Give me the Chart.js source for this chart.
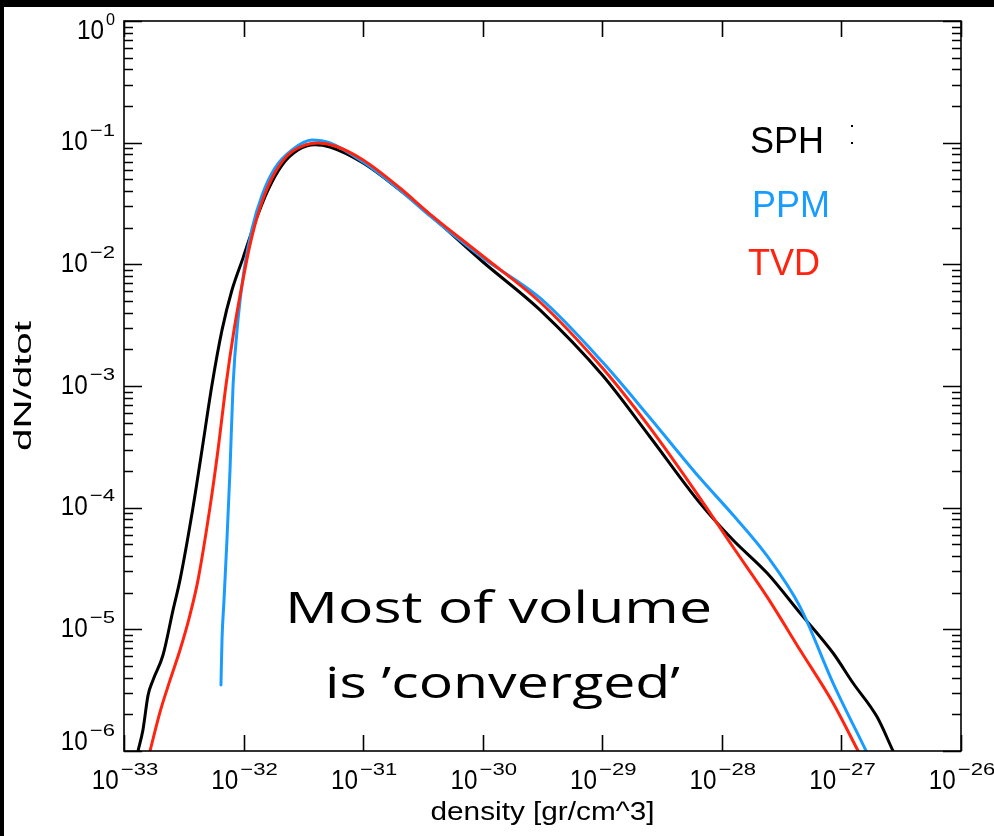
<!DOCTYPE html>
<html>
<head>
<meta charset="utf-8">
<title>Density distribution</title>
<script src="https://cdn.jsdelivr.net/npm/chart.js@4.4.1/dist/chart.umd.min.js"></script>
<style>
  html, body { margin: 0; padding: 0; background: #fff; }
  #wrap { position: relative; width: 994px; height: 836px; }
  canvas { display: block; }
</style>
</head>
<body>
<div id="wrap"><canvas id="c" width="994" height="836"></canvas></div>
<script>
// Axis decades (exponents of ten)
const xTickExponents = [-33, -32, -31, -30, -29, -28, -27, -26];
const yTickExponents = [0, -1, -2, -3, -4, -5, -6];

// SPH
const sphDensity = [1.31e-33, 1.44e-33, 1.59e-33, 1.75e-33, 2.12e-33, 2.57e-33, 2.94e-33, 3.78e-33, 4.49e-33, 5.44e-33,
  6.60e-33, 8.0e-33, 9.9e-33, 1.25e-32, 1.60e-32, 2.10e-32, 2.85e-32, 3.95e-32, 5.28e-32, 1.0e-31,
  2.03e-31, 3.62e-31, 1.0e-30, 3.01e-30, 1.0e-29, 2.51e-29, 6.56e-29, 1.24e-28, 2.39e-28, 4.51e-28,
  8.51e-28, 1.25e-27, 1.99e-27, 2.70e-27];
const sphDN = [1.0e-6, 1.49e-6, 2.88e-6, 3.84e-6, 6.15e-6, 1.44e-5, 2.55e-5, 1.01e-4, 2.98e-4, 1.02e-3,
  2.88e-3, 6.15e-3, 1.13e-2, 2.23e-2, 4.08e-2, 6.55e-2, 8.7e-2, 9.6e-2, 9.2e-2, 6.8e-2,
  4.08e-2, 2.55e-2, 1.05e-2, 4.22e-3, 1.23e-3, 3.81e-4, 1.09e-4, 5.42e-5, 2.90e-5, 1.36e-5,
  6.39e-6, 3.62e-6, 1.90e-6, 1.0e-6];

// PPM
const ppmDensity = [6.47e-33, 6.60e-33, 6.86e-33, 7.26e-33, 7.70e-33, 8.17e-33, 8.98e-33, 1.01e-32, 1.18e-32, 1.43e-32,
  1.83e-32, 2.54e-32, 3.73e-32, 5.28e-32, 1.0e-31, 2.03e-31, 3.62e-31, 1.0e-30, 3.01e-30, 1.0e-29,
  2.51e-29, 6.56e-29, 1.24e-28, 2.39e-28, 4.51e-28, 8.51e-28, 1.61e-27];
const ppmDN = [3.49e-6, 8.17e-6, 1.74e-5, 5.42e-5, 2.04e-4, 1.02e-3, 3.49e-3, 8.98e-3, 1.99e-2, 3.72e-2,
  6.19e-2, 8.71e-2, 1.05e-1, 9.94e-2, 6.93e-2, 4.08e-2, 2.50e-2, 1.13e-2, 5.29e-3, 1.58e-3,
  5.46e-4, 1.75e-4, 8.71e-5, 4.01e-5, 1.53e-5, 3.62e-6, 1.0e-6];

// TVD
const tvdDensity = [1.65e-33, 2.0e-33, 2.43e-33, 2.94e-33, 3.56e-33, 4.16e-33, 5.24e-33, 6.11e-33, 7.13e-33, 8.32e-33,
  9.70e-33, 1.13e-32, 1.37e-32, 1.73e-32, 2.35e-32, 3.27e-32, 4.19e-32, 5.82e-32, 1.0e-31, 2.03e-31,
  3.62e-31, 1.0e-30, 3.01e-30, 1.0e-29, 2.51e-29, 6.56e-29, 1.24e-28, 2.39e-28, 4.51e-28, 8.51e-28,
  1.38e-27];
const tvdDN = [1.0e-6, 2.09e-6, 3.84e-6, 6.76e-6, 1.31e-5, 2.55e-5, 1.01e-4, 2.98e-4, 1.02e-3, 2.88e-3,
  6.76e-3, 1.44e-2, 2.90e-2, 5.12e-2, 7.92e-2, 9.57e-2, 9.94e-2, 9.39e-2, 7.21e-2, 4.24e-2,
  2.59e-2, 1.17e-2, 4.90e-3, 1.41e-3, 4.52e-4, 1.20e-4, 4.75e-5, 1.85e-5, 6.76e-6, 2.48e-6,
  1.0e-6];

const seriesNames = ['SPH', 'PPM', 'TVD'];
const seriesColors = ['#000000', '#1a9cff', '#ff2410'];

const toPoints = (xs, ys) => xs.map((x, i) => ({ x: x, y: ys[i] }));

const FONT = "'Liberation Sans', Arial, Helvetica, sans-serif";

// Draw text stretched/compressed horizontally to a given width
function fitText(ctx, text, x, y, width, font, align) {
  ctx.save();
  ctx.font = font;
  const w = ctx.measureText(text).width;
  const s = width / w;
  let left = x;
  if (align === 'center') left = x - width / 2;
  else if (align === 'right') left = x - width;
  ctx.translate(left, y);
  ctx.scale(s, 1);
  ctx.textAlign = 'left';
  ctx.fillText(text, 0, 0);
  ctx.restore();
}

// "10" with a raised exponent
function powerLabel(ctx, exp, anchorX, baseY, align) {
  const baseFont = '28px ' + FONT;
  const expFont = '17px ' + FONT;
  const expText = exp === 0 ? '0' : '\u2212' + Math.abs(exp);
  ctx.save();
  const baseW = 27;
  ctx.font = expFont;
  const expW = exp === 0 ? 9 : (ctx.measureText(expText).width * 1.3);
  const gap = 2;
  const total = baseW + gap + expW;
  const left = align === 'right' ? anchorX - total : anchorX - total / 2;
  ctx.fillStyle = '#000';
  ctx.textBaseline = 'middle';
  fitText(ctx, '10', left, baseY, baseW, baseFont, 'left');
  fitText(ctx, expText, left + baseW + gap, baseY - 11, expW, expFont, 'left');
  ctx.restore();
}

const framePlugin = {
  id: 'frame',
  beforeDraw(chart) {
    const ctx = chart.ctx;
    ctx.save();
    ctx.fillStyle = '#fff';
    ctx.fillRect(0, 0, chart.width, chart.height);
    ctx.restore();
  },
  afterDraw(chart) {
    const ctx = chart.ctx;
    const a = chart.chartArea;
    const xs = chart.scales.x, ys = chart.scales.y;
    ctx.save();
    ctx.strokeStyle = '#000';
    ctx.lineWidth = 1.6;
    ctx.strokeRect(a.left, a.top, a.right - a.left, a.bottom - a.top);

    // x ticks: decades only, top and bottom, inward
    ctx.beginPath();
    xTickExponents.forEach(e => {
      const px = Math.round(xs.getPixelForValue(Math.pow(10, e))) + 0.5;
      ctx.moveTo(px, a.bottom); ctx.lineTo(px, a.bottom - 16);
      ctx.moveTo(px, a.top); ctx.lineTo(px, a.top + 16);
    });
    // y ticks: decades plus minor ticks, left and right, inward
    yTickExponents.forEach(e => {
      for (let m = 1; m <= 9; m++) {
        const v = m * Math.pow(10, e);
        if (v > 1.0001) continue;
        const py = Math.round(ys.getPixelForValue(v)) + 0.5;
        const len = m === 1 ? 18 : 9;
        ctx.moveTo(a.left, py); ctx.lineTo(a.left + len, py);
        ctx.moveTo(a.right, py); ctx.lineTo(a.right - len, py);
      }
    });
    ctx.stroke();

    // tick labels
    xTickExponents.forEach(e => {
      const px = xs.getPixelForValue(Math.pow(10, e));
      powerLabel(ctx, e, px + 1, a.bottom + 30, 'center');
    });
    yTickExponents.forEach(e => {
      const py = ys.getPixelForValue(Math.pow(10, e));
      const cy = Math.min(Math.max(py, a.top + 10), a.bottom - 9);
      powerLabel(ctx, e, a.left - 9, cy, 'right');
    });

    // axis titles
    ctx.fillStyle = '#000';
    ctx.textBaseline = 'alphabetic';
    fitText(ctx, 'density [gr/cm^3]', (a.left + a.right) / 2, 820, 224, '26px ' + FONT, 'center');
    ctx.save();
    ctx.translate(31, (a.top + a.bottom) / 2);
    ctx.rotate(-Math.PI / 2);
    fitText(ctx, 'dN/dtot', 0, 0, 130, '23px ' + FONT, 'center');
    ctx.restore();

    // series labels
    ctx.font = '36px ' + FONT;
    ctx.textAlign = 'left';
    ctx.fillStyle = seriesColors[0];
    ctx.fillText(seriesNames[0], 750, 153);
    ctx.fillRect(851, 125, 2, 2);
    ctx.fillRect(851, 142, 2, 2);
    ctx.fillStyle = seriesColors[1];
    ctx.fillText(seriesNames[1], 752, 217);
    ctx.fillStyle = seriesColors[2];
    ctx.fillText(seriesNames[2], 748, 275);

    // annotation
    ctx.fillStyle = '#000';
    const noteFont = "400 44px 'Open Sans', Lato, 'DejaVu Sans', sans-serif";
    fitText(ctx, 'Most of volume', 498.5, 623, 427, noteFont, 'center');
    fitText(ctx, "is \u2019converged\u2019", 502.5, 698, 355, noteFont, 'center');

    // outer frame strips
    ctx.fillStyle = '#000';
    ctx.fillRect(0, 0, chart.width, 7);
    ctx.fillRect(0, 0, 4, chart.height);
    ctx.restore();
  }
};

const datasets = [
  { label: seriesNames[0], data: toPoints(sphDensity, sphDN), borderColor: seriesColors[0], order: 2 },
  { label: seriesNames[1], data: toPoints(ppmDensity, ppmDN), borderColor: seriesColors[1], order: 1 },
  { label: seriesNames[2], data: toPoints(tvdDensity, tvdDN), borderColor: seriesColors[2], order: 0 }
].map(d => Object.assign(d, {
  borderWidth: 3,
  pointRadius: 0,
  fill: false,
  cubicInterpolationMode: 'monotone',
  borderCapStyle: 'round',
  borderJoinStyle: 'round'
}));

new Chart(document.getElementById('c'), {
  type: 'line',
  data: { datasets: datasets },
  options: {
    responsive: false,
    animation: false,
    devicePixelRatio: 1,
    layout: { padding: { left: 124, top: 21, right: 33, bottom: 85 } },
    plugins: { legend: { display: false }, tooltip: { enabled: false } },
    scales: {
      x: { type: 'logarithmic', min: 1e-33, max: 1e-26, display: false },
      y: { type: 'logarithmic', min: 1e-6, max: 1, display: false }
    }
  },
  plugins: [framePlugin]
});
</script>
</body>
</html>
